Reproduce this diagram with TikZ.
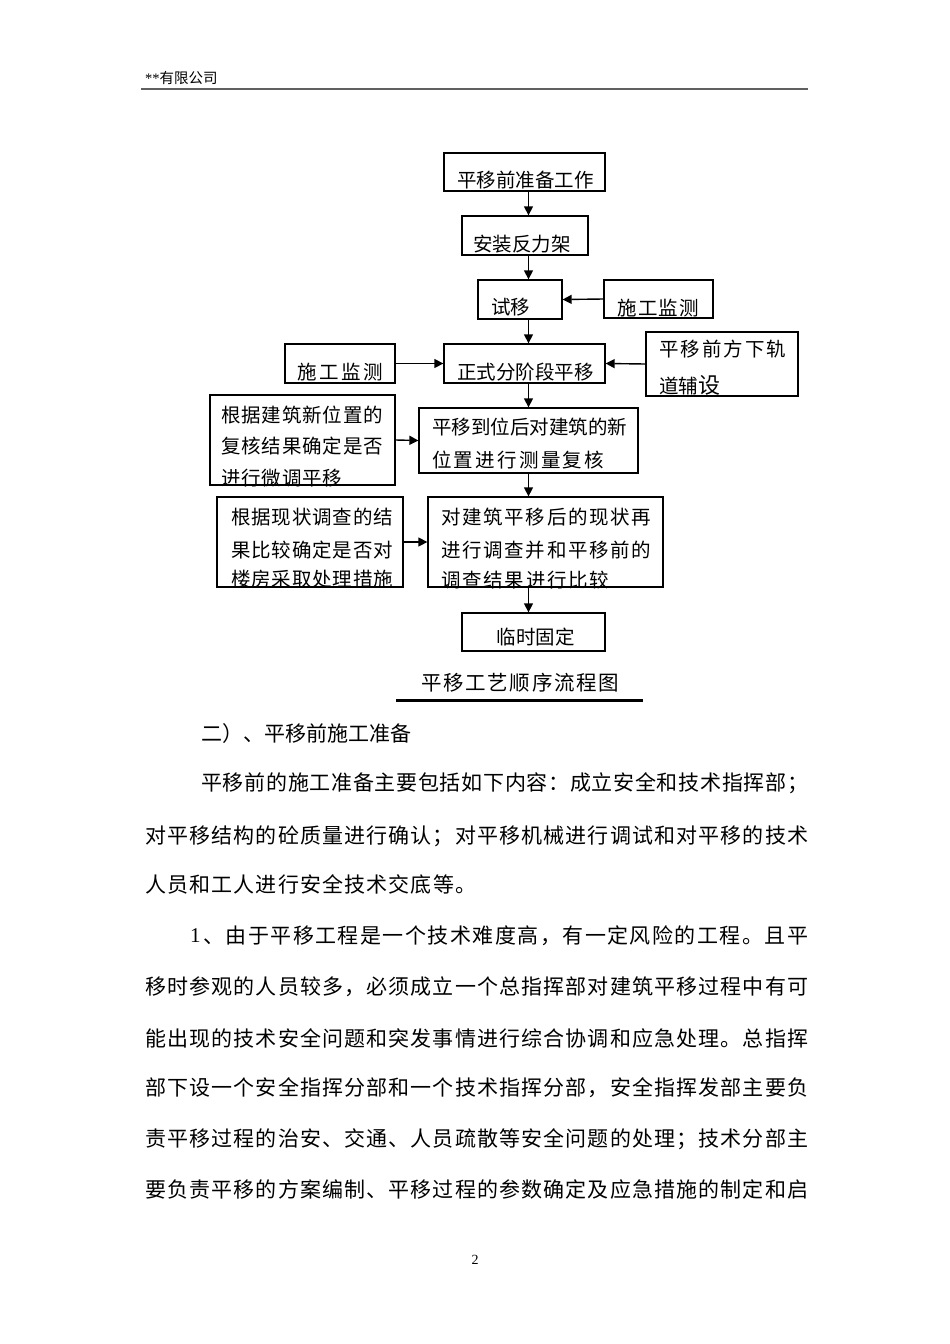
\documentclass[tikz,border=0pt]{standalone}
\usepackage{fontspec}
\setmainfont{Liberation Serif}
\newfontfamily\cjk{Noto Sans CJK SC}
\usetikzlibrary{arrows.meta}
\makeatletter
\def\spr@#1#2\@nil{#1\ifx\relax#2\relax\else\hfil\spr@#2\@nil\fi}
\newcommand\sprd[2]{\hbox to #1pt{\spr@#2\@nil}}
\makeatother
\definecolor{rulegray}{HTML}{606060}
\tikzset{
  box/.style={draw, line width=1.3pt, inner sep=0pt},
  ftxt/.style={inner sep=0pt, anchor=west, font=\cjk\fontsize{19.5}{19.5}\selectfont},
  btxt/.style={inner sep=0pt, anchor=west, font=\cjk\fontsize{21}{21}\selectfont},
  arr/.style={line width=1.4pt, -{Triangle[length=9pt,width=9pt]}},
}
\begin{document}
\begin{tikzpicture}[x=1pt,y=-1pt]
\useasboundingbox[fill=white] (0,0) rectangle (950,1344);

% header
\node[inner sep=0pt, anchor=west, font=\fontsize{14.5}{14.5}\selectfont] (hdr) at (145,78) {**{\cjk 有限公司}};
\draw[rulegray, line width=2pt] (141,89) -- (808,89);

% boxes
\node[box, minimum width=161pt, minimum height=38pt] (B1) at (524.5,172) {};
\node[box, minimum width=126pt, minimum height=39pt] (B2) at (525,235.5) {};
\node[box, minimum width=84pt,  minimum height=39pt] (B3) at (520,299.5) {};
\node[box, minimum width=109pt, minimum height=38pt] (M1) at (658.5,299) {};
\node[box, minimum width=161pt, minimum height=39pt] (B4) at (524.5,363.5) {};
\node[box, minimum width=110pt, minimum height=39pt] (M2) at (340,363.5) {};
\node[box, minimum width=152pt, minimum height=64pt] (R1) at (722,364) {};
\node[box, minimum width=219pt, minimum height=65pt] (B5) at (528.5,440.5) {};
\node[box, minimum width=185pt, minimum height=90pt] (L1) at (302.5,440) {};
\node[box, minimum width=235pt, minimum height=90pt] (B6) at (545.5,542) {};
\node[box, minimum width=186pt, minimum height=90pt] (L2) at (310,542) {};
\node[box, minimum width=143pt, minimum height=38pt] (B7) at (533.5,632) {};

% box texts
\node[ftxt] (t1) at (457,180) {\sprd{134}{平移前准备工作}};
\node[ftxt] (t2) at (473,244) {\sprd{97}{安装反力架}};
\node[ftxt] (t3) at (491,307) {\sprd{39}{试移}};
\node[ftxt] (t4) at (617,308) {\sprd{82}{施工监测}};
\node[ftxt] (t5) at (297,372) {\sprd{86}{施工监测}};
\node[ftxt] (t6) at (457,372) {\sprd{135}{正式分阶段平移}};
\node[ftxt] (t7a) at (659,349) {\sprd{127}{平移前方下轨}};
\node[ftxt] (t7b) at (659,385) {道辅{\fontsize{22}{22}\selectfont 设}};
\node[ftxt] (t8a) at (221,415) {\sprd{162}{根据建筑新位置的}};
\node[ftxt] (t8b) at (221,446) {\sprd{162}{复核结果确定是否}};
\node[ftxt] (t8c) at (221,478) {\sprd{121}{进行微调平移}};
\node[ftxt] (t9a) at (432,427) {\sprd{195}{平移到位后对建筑的新}};
\node[ftxt] (t9b) at (432,460) {\sprd{172}{位置进行测量复核}};
\node[ftxt] (t10a) at (231,517) {\sprd{162}{根据现状调查的结}};
\node[ftxt] (t10b) at (231,550) {\sprd{162}{果比较确定是否对}};
\node[ftxt] (t10c) at (231,579) {\sprd{162}{楼房采取处理措施}};
\node[ftxt] (t11a) at (441,517) {\sprd{210}{对建筑平移后的现状再}};
\node[ftxt] (t11b) at (441,550) {\sprd{210}{进行调查并和平移前的}};
\node[ftxt] (t11c) at (441,580) {\sprd{168}{调查结果进行比较}};
\node[ftxt] (t12) at (496,637) {\sprd{79}{临时固定}};

% connectors
\coordinate (ax) at (528.5,0);
\draw[arr] (B1.south -| ax) -- (B2.north -| ax);
\draw[arr] (B2.south -| ax) -- (B3.north -| ax);
\draw[arr] (B3.south -| ax) -- (B4.north -| ax);
\draw[arr] (B4.south -| ax) -- (B5.north -| ax);
\draw[arr] (B5.south -| ax) -- (B6.north -| ax);
\draw[arr] (B6.south -| ax) -- (B7.north -| ax);
\draw[arr] (M1.west) -- (B3.east);
\draw[arr] (M2.east) -- (B4.west);
\draw[arr] (R1.west) -- (B4.east);
\draw[arr] (L1.east) -- (B5.west);
\draw[arr] (L2.east) -- (B6.west);

% caption
\node[inner sep=0pt, anchor=west, font=\cjk\fontsize{20.5}{20.5}\selectfont] (cap) at (421,683) {\sprd{198}{平移工艺顺序流程图}};
\draw[line width=3pt] (396,700) -- (643,700);

% body text
\node[btxt] (p1) at (201,734) {\sprd{208}{二）、平移前施工准备}};
\node[btxt] (p2) at (201,783) {\sprd{607}{平移前的施工准备主要包括如下内容：成立安全和技术指挥部；}};
\node[btxt] (p3) at (145,836) {\sprd{663}{对平移结构的砼质量进行确认；对平移机械进行调试和对平移的技术}};
\node[btxt] (p4) at (145,884) {\sprd{331}{人员和工人进行安全技术交底等。}};
\node[inner sep=0pt, anchor=west, font=\fontsize{21}{21}\selectfont] (p5n) at (190,936) {1};
\node[btxt] (p5) at (203,936) {\sprd{605}{、由于平移工程是一个技术难度高，有一定风险的工程。且平}};
\node[btxt] (p6) at (145,987) {\sprd{663}{移时参观的人员较多，必须成立一个总指挥部对建筑平移过程中有可}};
\node[btxt] (p7) at (145,1038) {\sprd{663}{能出现的技术安全问题和突发事情进行综合协调和应急处理。总指挥}};
\node[btxt] (p8) at (145,1088) {\sprd{663}{部下设一个安全指挥分部和一个技术指挥分部，安全指挥发部主要负}};
\node[btxt] (p9) at (145,1139) {\sprd{663}{责平移过程的治安、交通、人员疏散等安全问题的处理；技术分部主}};
\node[btxt] (p10) at (145,1189) {\sprd{663}{要负责平移的方案编制、平移过程的参数确定及应急措施的制定和启}};

% page number
\node[inner sep=0pt, font=\fontsize{14}{14}\selectfont] (pg) at (475,1260) {2};
\end{tikzpicture}
\end{document}
